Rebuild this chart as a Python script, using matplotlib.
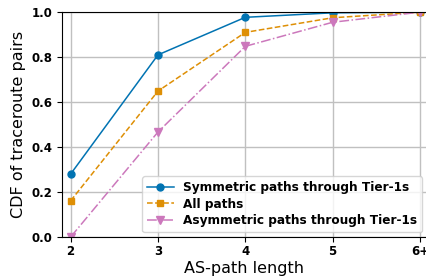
import matplotlib
matplotlib.use("Agg")
import matplotlib.pyplot as plt

# AS-path length categories
path_lengths = [2, 3, 4, 5, 6]
tick_labels = ["2", "3", "4", "5", "6+"]

# CDF values
cdf_symmetric = [0.28, 0.81, 0.977, 0.997, 1.0]
cdf_all = [0.161, 0.649, 0.910, 0.975, 1.0]
cdf_asymmetric = [0.0, 0.467, 0.848, 0.955, 1.0]

fig = plt.figure(figsize=(4.27, 2.79), dpi=100)
ax = fig.add_axes([0.145, 0.1505, 0.855, 0.806])

ax.plot(path_lengths, cdf_symmetric, color="#0173b2", marker="o", markersize=5,
        linestyle="-", linewidth=1.1, label="Symmetric paths through Tier-1s")
ax.plot(path_lengths, cdf_all, color="#de8f05", marker="s", markersize=5,
        linestyle="--", linewidth=1.1, label="All paths")
ax.plot(path_lengths, cdf_asymmetric, color="#cc78bc", marker="v", markersize=6,
        linestyle="-.", linewidth=1.1, label="Asymmetric paths through Tier-1s")

ax.set_xlim(1.9, 6.08)
ax.set_ylim(0, 1.0)
ax.set_xticks(path_lengths)
ax.set_xticklabels(tick_labels)
ax.set_yticks([0.0, 0.2, 0.4, 0.6, 0.8, 1.0])
for lbl in ax.get_xticklabels() + ax.get_yticklabels():
    lbl.set_fontweight("bold")
    lbl.set_fontsize(8.5)
ax.tick_params(axis="x", pad=2.5)
ax.grid(True, color="#c0c0c0", linewidth=1.0)
ax.set_axisbelow(True)

ax.set_xlabel("AS-path length", fontsize=11.5, labelpad=2)
ax.set_ylabel("CDF of traceroute pairs", fontsize=11.5)

ax.legend(loc="lower right", prop={"weight": "bold", "size": 8.7},
          handlelength=2.2, borderaxespad=0.4, labelspacing=0.3)

fig.savefig("out.png", dpi=100)
